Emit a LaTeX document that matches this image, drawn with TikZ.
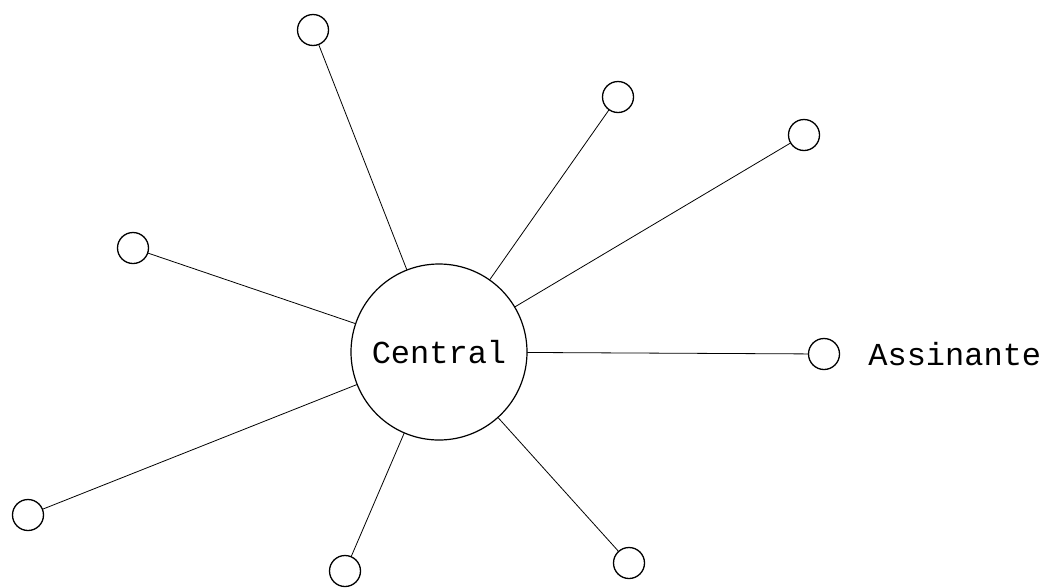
\documentclass[tikz,border=0pt]{standalone}
\usepackage{fontspec}
\setmonofont{Liberation Mono}
\usetikzlibrary{positioning}

\begin{document}
\begin{tikzpicture}[x=1pt,y=-1pt,line cap=round,line join=round,
    hub/.style={draw,circle,line width=1.2pt,minimum size=176pt,inner sep=0pt,
      font=\ttfamily\fontsize{32}{32}\selectfont},
    subscriber/.style={draw,circle,line width=1.3pt,minimum size=31pt,inner sep=0pt},
    link/.style={line width=0.8pt}]
  \useasboundingbox (0,0) rectangle (1052,587);
  \node[hub] (central) at (439,352) {Central};
  \node[subscriber] (s1) at (313,30) {};
  \node[subscriber] (s2) at (618,97) {};
  \node[subscriber] (s3) at (804,135) {};
  \node[subscriber] (s4) at (133,248) {};
  \node[subscriber] (s5) at (824,354) {};
  \node[subscriber] (s6) at (28,515) {};
  \node[subscriber] (s7) at (345,571) {};
  \node[subscriber] (s8) at (629,563) {};
  \node[right=28pt of s5,inner sep=0pt,font=\ttfamily\fontsize{32}{32}\selectfont] (label) {Assinante};
  \draw[link] (central) -- (s1) (central) -- (s2) (central) -- (s3) (central) -- (s4);
  \draw[link] (central) -- (s5) (central) -- (s6) (central) -- (s7) (central) -- (s8);
\end{tikzpicture}
\end{document}
